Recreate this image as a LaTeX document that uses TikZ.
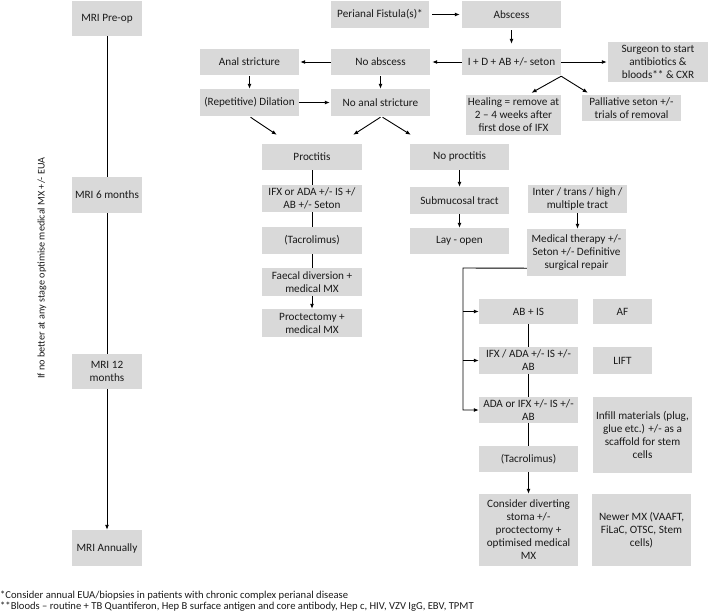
\documentclass[tikz,border=0pt]{standalone}
\usepackage{fontspec}
\setmainfont{Carlito}
\usetikzlibrary{arrows.meta,calc}
\definecolor{boxgray}{HTML}{D9D9D9}
\definecolor{txt}{HTML}{1A1A1A}
\newcommand{\drawbox}[6]{%
  \pgfmathsetmacro\dbw{#4-#2}\pgfmathsetmacro\dbh{#5-#3}%
  \pgfmathsetmacro\dbx{(#2+#4)/2}\pgfmathsetmacro\dby{(#3+#5)/2}%
  \node[box, minimum width=\dbw pt, minimum height=\dbh pt] (#1) at (\dbx,\dby) {#6};}
\begin{document}
\begin{tikzpicture}[x=1pt,y=-1pt,
  box/.style={fill=boxgray, inner sep=0pt, align=center, text=txt,
    font=\fontsize{11.2}{13}\selectfont},
  ln/.style={line width=0.9pt, draw=black},
  arr/.style={-{Latex[length=5pt,width=4pt]}},
  note/.style={inner sep=0pt, text=txt, font=\fontsize{10.6}{12}\selectfont}]
\useasboundingbox (0,0) rectangle (708,614);
% left column
\drawbox{pre}{72}{1}{142}{36}{MRI Pre-op}
\drawbox{m6}{72}{177}{142}{213}{MRI 6 months}
\drawbox{m12}{72}{354}{142}{389}{MRI 12\\months}
\drawbox{ann}{72}{530}{142}{566}{MRI Annually}
\node[note, font=\fontsize{10.2}{12}\selectfont, rotate=90] (side) at (42,268) {If no better at any stage optimise medical MX +/- EUA};
% top
\drawbox{peri}{331}{1}{429}{28}{Perianal Fistula(s)*}
\drawbox{absc}{462}{1}{561}{28}{Abscess}
\drawbox{id}{462}{49}{561}{75}{I + D + AB +/- seton}
\drawbox{noab}{331}{49}{430}{75}{No abscess}
\drawbox{anal}{200}{49}{299}{75}{Anal stricture}
\drawbox{surg}{608}{42}{708}{82}{Surgeon to start\\antibiotics \&\\bloods** \& CXR}
\drawbox{noanal}{331}{89}{430}{116}{No anal stricture}
\drawbox{dil}{200}{89}{299}{116}{(Repetitive) Dilation}
\drawbox{heal}{466}{95}{561}{135}{Healing = remove at\\2 – 4 weeks after\\first dose of IFX}
\drawbox{pall}{582}{95}{681}{121}{Palliative seton +/-\\trials of removal}
% proctitis column
\drawbox{proc}{262}{144}{362}{170}{Proctitis}
\drawbox{ifxa}{262}{185}{362}{212}{IFX or ADA +/- IS +/\\AB +/- Seton}
\drawbox{taca}{262}{227}{362}{254}{(Tacrolimus)}
\drawbox{faec}{262}{268}{362}{296}{Faecal diversion +\\medical MX}
\drawbox{proct}{262}{309}{362}{337}{Proctectomy +\\medical MX}
% no proctitis column
\drawbox{noproc}{410}{144}{509}{170}{No proctitis}
\drawbox{subm}{410}{187}{509}{214}{Submucosal tract}
\drawbox{lay}{410}{228}{509}{254}{Lay - open}
% right part
\drawbox{inter}{528}{185}{627}{213}{Inter / trans / high /\\multiple tract}
\drawbox{med}{527}{229}{626}{276}{Medical therapy +/-\\Seton +/- Definitive\\surgical repair}
\drawbox{abis}{479}{299}{578}{324}{AB + IS}
\drawbox{af}{593}{299}{652}{324}{AF}
\drawbox{ifxb}{479}{347}{578}{374}{IFX / ADA +/- IS +/-\\AB}
\drawbox{lift}{593}{347}{652}{374}{LIFT}
\drawbox{ada}{479}{397}{578}{423}{ADA or IFX +/- IS +/-\\AB}
\drawbox{infill}{593}{397}{692}{473}{Infill materials (plug,\\glue etc.) +/- as a\\scaffold for stem\\cells}
\drawbox{tacb}{479}{446}{578}{472}{(Tacrolimus)}
\drawbox{cons}{479}{494}{578}{566}{Consider diverting\\stoma +/-\\proctectomy +\\optimised medical\\MX}
\drawbox{newer}{592}{494}{691}{566}{Newer MX (VAAFT,\\FiLaC, OTSC, Stem\\cells)}
% footnotes
\node[note, anchor=base west] (fn1) at (0,598.5) {*Consider annual EUA/biopsies in patients with chronic complex perianal disease};
\node[note, anchor=base west] (fn2) at (0,609.5) {**Bloods – routine + TB Quantiferon, Hep B surface antigen and core antibody, Hep c, HIV, VZV IgG, EBV, TPMT};
% connectors
\draw[ln] (pre) -- (m6);
\draw[ln] (m6) -- (m12);
\draw[ln,arr] (m12) -- (ann);
\draw[ln,arr,shorten <=3pt,shorten >=2pt] (peri) -- (absc);
\draw[ln,arr,shorten <=2pt,shorten >=5pt] (absc) -- (id);
\draw[ln,arr,shorten >=2pt] (id) -- (noab);
\draw[ln,arr,shorten >=1pt] (noab) -- (anal);
\draw[ln,arr,shorten >=1pt] (id) -- (surg);
\draw[ln,arr,shorten <=1pt] (noab) -- (noanal);
\draw[ln,arr,shorten <=1pt] (anal) -- (dil);
\draw[ln,arr,shorten >=1pt] (dil) -- (noanal);
\draw[ln,arr] ($(dil.south)+(1,1)$) -- ($(proc.north west)+(15,-9)$);
\draw[ln,arr] ($(noanal.south)+(0,1)$) -- ($(proc.north east)+(-9,-9)$);
\draw[ln,arr] ($(noanal.south)+(2,1)$) -- ($(noproc.north west)+(1,-9)$);
\draw[ln,arr] ($(id.south east)+(0,1)$) -- ($(heal.north)+(18,-2)$);
\draw[ln,arr] ($(id.south east)+(0,1)$) -- ($(pall.north west)+(6,-2)$);
\draw[ln] (proc) -- (ifxa);
\draw[ln] (ifxa) -- (taca);
\draw[ln] (taca) -- (faec);
\draw[ln,arr] (faec) -- (proct);
\draw[ln,arr] (noproc) -- (subm);
\draw[ln,arr] (subm) -- (lay);
\draw[ln,arr] (inter.south) -- (inter.south |- med.north);
\coordinate (trunk) at (463,268);
\draw[ln,arr] ($(med.south west)+(0,-8)$) -- (trunk) |- (ada.west);
\draw[ln,arr] (trunk |- abis.west) -- (abis.west);
\draw[ln,arr] (trunk |- ifxb.west) -- (ifxb.west);
\draw[ln] (abis) -- (ifxb);
\draw[ln] (ifxb) -- (ada);
\draw[ln] (ada) -- (tacb);
\draw[ln,arr] (tacb) -- (cons);
\end{tikzpicture}
\end{document}
